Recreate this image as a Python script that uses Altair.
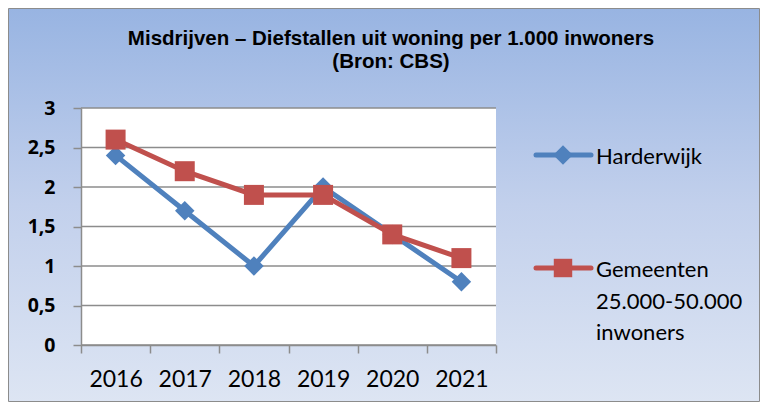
import altair as alt
import pandas as pd

# ---- data ----
years = ["2016", "2017", "2018", "2019", "2020", "2021"]
harderwijk = [2.4, 1.7, 1.0, 2.0, 1.4, 0.8]
gemeenten = [2.6, 2.2, 1.9, 1.9, 1.4, 1.1]
series_names = ["Harderwijk", "Gemeenten 25.000-50.000 inwoners"]
legend_lines = [["Harderwijk"], ["Gemeenten", "25.000-50.000", "inwoners"]]
y_ticks = [0, 0.5, 1, 1.5, 2, 2.5, 3]
title_lines = ["Misdrijven \u2013 Diefstallen uit woning per 1.000 inwoners", "(Bron: CBS)"]

colors = ["#4F81BD", "#C0504D"]
shapes = ["diamond", "square"]

W, H = 752, 394
PL, PR, PT, PB = 73, 488, 100, 337  # plot rectangle inside the view

df = pd.DataFrame({
    "year": years * 2,
    "value": harderwijk + gemeenten,
    "series": [series_names[0]] * len(years) + [series_names[1]] * len(years),
})
grid_df = pd.DataFrame({"v": y_ticks})

x_scale = alt.Scale(type="band", domain=years, range=[PL, PR], paddingInner=0, paddingOuter=0)
y_scale = alt.Scale(domain=[0, 3], range=[PB, PT], nice=False, zero=True)

one = alt.Data(values=[{"a": 1}])

bg = alt.Chart(one).mark_rect(
    fill=alt.Gradient(gradient="linear", x1=0, x2=0, y1=0, y2=1,
                      stops=[alt.GradientStop(color="#98B4E2", offset=0),
                             alt.GradientStop(color="#C2D0EC", offset=0.5),
                             alt.GradientStop(color="#DDE5F3", offset=1)]),
    stroke="#8C8C8C", strokeWidth=1,
).encode(x=alt.value(0.5), x2=alt.value(W - 0.5), y=alt.value(0.5), y2=alt.value(H - 0.5))

plotbg = alt.Chart(one).mark_rect(fill="white").encode(
    x=alt.value(PL), x2=alt.value(PR),
    y=alt.datum(0, scale=y_scale, type="quantitative"), y2=alt.datum(3),
)

yaxis = alt.Axis(values=y_ticks, format=".1~f",
                 labelExpr="replace(datum.label, '.', ',')",
                 offset=-PL, title=None, grid=False, zindex=1,
                 domainColor="#8C8C8C", domainWidth=1.5,
                 tickColor="#8C8C8C", tickWidth=1.5, tickSize=8,
                 labelFont="Open Sans", labelFontSize=19.5, labelFontWeight="bold",
                 labelColor="black", labelPadding=18)

xaxis = alt.Axis(offset=-(H - PB), title=None, grid=False, tickBand="extent", zindex=1,
                 domainColor="#8C8C8C", domainWidth=1.5,
                 tickColor="#8C8C8C", tickWidth=1.5, tickSize=8,
                 labelFont="Lato", labelFontSize=23, labelColor="black",
                 labelPadding=15, labelAngle=0)

grid = alt.Chart(grid_df).mark_rule(color="#8C8C8C", strokeWidth=1.5).encode(
    y=alt.Y("v:Q", scale=y_scale, axis=yaxis),
    x=alt.value(PL), x2=alt.value(PR),
)

layers = [bg, plotbg, grid]
for i, name in enumerate(series_names):
    sub = df[df["series"] == name]
    base = alt.Chart(sub).encode(
        x=alt.X("year:O", scale=x_scale, axis=xaxis),
        y=alt.Y("value:Q", scale=y_scale, axis=yaxis),
    )
    layers.append(base.mark_line(color=colors[i], strokeWidth=5))
    layers.append(base.mark_point(shape=shapes[i], filled=True, size=400 if i else 380,
                                  color=colors[i], opacity=1))

# legend (manual, to draw line + marker symbols)
legend_y = [147, 260]
legend_text_y = [156, 269]
for i, name in enumerate(series_names):
    layers.append(alt.Chart(one).mark_rule(color=colors[i], strokeWidth=5, strokeCap="round").encode(
        x=alt.value(528), x2=alt.value(583), y=alt.value(legend_y[i])))
    layers.append(alt.Chart(one).mark_point(shape=shapes[i], filled=True, opacity=1,
                                            size=380 if i == 0 else 340, color=colors[i]).encode(
        x=alt.value(555), y=alt.value(legend_y[i])))
    layers.append(alt.Chart(one).mark_text(align="left", baseline="alphabetic", font="Lato",
                                           fontSize=22, lineHeight=31.5, color="black",
                                           text=legend_lines[i]).encode(
        x=alt.value(588), y=alt.value(legend_text_y[i])))

for j, t in enumerate(title_lines):
    layers.append(alt.Chart(one).mark_text(align="center", baseline="alphabetic",
                                           font="Liberation Sans", fontWeight="bold",
                                           fontSize=20.5, color="black", text=t).encode(
        x=alt.value(383), y=alt.value(37 + 23 * j)))

chart = alt.layer(*layers).properties(
    width=W, height=H, padding=0,
    autosize=alt.AutoSizeParams(type="none"),
).configure_view(stroke=None)

chart.save("out.html", embed_options={"renderer": "svg", "actions": False})
